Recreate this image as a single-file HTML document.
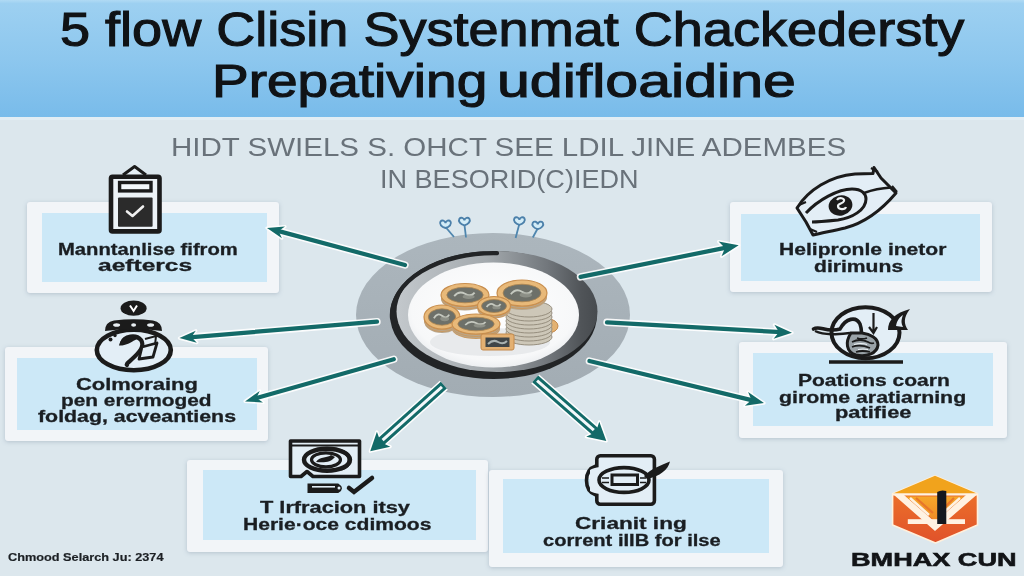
<!DOCTYPE html>
<html><head><meta charset="utf-8">
<style>
*{margin:0;padding:0;box-sizing:border-box}
html,body{width:1024px;height:576px;overflow:hidden}
body{position:relative;background:#dce7ed;font-family:"Liberation Sans",sans-serif;color:#15181c}
.a{position:absolute;white-space:nowrap;line-height:1;transform-origin:0 0}
#hdr{position:absolute;left:0;top:0;width:1024px;height:118px;background:linear-gradient(#b0daf4,#9dd0f1 3%,#8dc7ee 50%,#78bbea)}
#sep{position:absolute;left:0;top:117px;width:1024px;height:3px;background:#e2edf4}
.box{position:absolute;background:#f2f5f8;border-radius:3px;box-shadow:0 1px 4px rgba(110,130,150,.35)}
.inr{position:absolute;background:#cce8f7}
</style></head><body>
<div id="hdr"></div>
<div id="sep"></div>

<!-- boxes -->
<div class="box" style="left:27px;top:202px;width:252px;height:91px"><div class="inr" style="left:15px;top:11px;width:225px;height:69px"></div></div>
<div class="box" style="left:5px;top:347px;width:263px;height:94px"><div class="inr" style="left:12px;top:11px;width:240px;height:72px"></div></div>
<div class="box" style="left:187px;top:460px;width:301px;height:92px"><div class="inr" style="left:16px;top:10px;width:273px;height:70px"></div></div>
<div class="box" style="left:489px;top:470px;width:294px;height:97px"><div class="inr" style="left:14px;top:9px;width:266px;height:74px"></div></div>
<div class="box" style="left:730px;top:202px;width:262px;height:90px"><div class="inr" style="left:11px;top:12px;width:239px;height:67px"></div></div>
<div class="box" style="left:739px;top:342px;width:268px;height:96px"><div class="inr" style="left:14px;top:11px;width:240px;height:73px"></div></div>

<!--SVG-->
<svg style="position:absolute;left:0;top:0" width="1024" height="576" viewBox="0 0 1024 576">
<defs><linearGradient id="gOuter" x1="0" y1="0" x2="0" y2="1"><stop offset="0" stop-color="#acb6bd"/><stop offset="1" stop-color="#a2acb3"/></linearGradient><linearGradient id="gDark" x1="0" y1="0.5" x2="1" y2="0.5"><stop offset="0" stop-color="#c3c8cc"/><stop offset=".45" stop-color="#a3a9ad"/><stop offset=".75" stop-color="#72777c"/><stop offset=".92" stop-color="#505458"/><stop offset="1" stop-color="#474b4f"/></linearGradient><linearGradient id="gArc" gradientUnits="userSpaceOnUse" x1="520" y1="0" x2="597" y2="0"><stop offset="0" stop-color="#232527"/><stop offset="1" stop-color="#4a4e52"/></linearGradient><filter id="blur1" x="-10%" y="-10%" width="120%" height="120%"><feGaussianBlur stdDeviation="0.75"/></filter><linearGradient id="gInner" x1="0" y1="0" x2="1" y2="1"><stop offset="0" stop-color="#c9ced2"/><stop offset="1" stop-color="#8d9398"/></linearGradient><radialGradient id="gPlate" cx=".5" cy=".45" r=".6"><stop offset="0" stop-color="#ffffff"/><stop offset=".8" stop-color="#f7f8f9"/><stop offset="1" stop-color="#e6e9ec"/></radialGradient><linearGradient id="gLogoB" x1="0" y1="0" x2="0" y2="1"><stop offset="0" stop-color="#f07a2a"/><stop offset="1" stop-color="#e0522a"/></linearGradient></defs>
<ellipse cx="493" cy="315" rx="137" ry="82" fill="url(#gOuter)"/>
<ellipse cx="493.5" cy="315" rx="103.5" ry="64" fill="#222426"/>
<ellipse cx="497" cy="311.5" rx="100.5" ry="60.5" fill="url(#gDark)"/>
<path d="M497,253.2 A101.5,62 0 0 0 392,318" fill="none" stroke="#222426" stroke-width="4.2" stroke-linecap="round"/>
<ellipse cx="493.5" cy="315" rx="85.5" ry="52.5" fill="url(#gPlate)"/>
<ellipse cx="490" cy="342" rx="60" ry="14" fill="#e3e6e9" opacity=".8"/>
<g filter="url(#blur1)">
<ellipse cx="548" cy="326" rx="10" ry="7" fill="#e3b272" stroke="#c48a4c" stroke-width="1"/>
<ellipse cx="529" cy="337" rx="23" ry="8" fill="#cdc7b8" stroke="#968e7e" stroke-width="1"/>
<ellipse cx="529" cy="333" rx="23" ry="8" fill="#cdc7b8" stroke="#968e7e" stroke-width="1"/>
<ellipse cx="529" cy="329" rx="23" ry="8" fill="#cdc7b8" stroke="#968e7e" stroke-width="1"/>
<ellipse cx="529" cy="325" rx="23" ry="8" fill="#cdc7b8" stroke="#968e7e" stroke-width="1"/>
<ellipse cx="529" cy="321" rx="23" ry="8" fill="#cdc7b8" stroke="#968e7e" stroke-width="1"/>
<ellipse cx="529" cy="317" rx="23" ry="8" fill="#cdc7b8" stroke="#968e7e" stroke-width="1"/>
<ellipse cx="529" cy="313" rx="23" ry="8" fill="#cdc7b8" stroke="#968e7e" stroke-width="1"/>
<ellipse cx="529" cy="309" rx="23" ry="8" fill="#cdc7b8" stroke="#968e7e" stroke-width="1"/>
<ellipse cx="522" cy="297" rx="25" ry="13" fill="#b8a68c"/>
<ellipse cx="522" cy="296" rx="25" ry="13" fill="#c99a62"/>
<ellipse cx="522" cy="295" rx="25" ry="13" fill="#b8a68c"/>
<ellipse cx="522" cy="294" rx="25" ry="13" fill="#c99a62"/>
<ellipse cx="522" cy="293" rx="25" ry="13" fill="#e8b979" stroke="#c98f4f" stroke-width="1.2"/>
<ellipse cx="522" cy="293" rx="19.0" ry="8.8" fill="#6d7069" stroke="#a9834f" stroke-width=".8"/>
<path d="M510.8,294.3 q5.0,-6.5 11.2,-2.6 t10.0,-1.3" fill="none" stroke="#d6d9d0" stroke-width="1.8" opacity=".85"/>
<ellipse cx="525.8" cy="294.9" rx="6.2" ry="2.6" fill="#9a9d93" opacity=".7"/>
<ellipse cx="465" cy="299" rx="24" ry="11.5" fill="#b8a68c"/>
<ellipse cx="465" cy="298" rx="24" ry="11.5" fill="#c99a62"/>
<ellipse cx="465" cy="297" rx="24" ry="11.5" fill="#b8a68c"/>
<ellipse cx="465" cy="296" rx="24" ry="11.5" fill="#c99a62"/>
<ellipse cx="465" cy="295" rx="24" ry="11.5" fill="#e8b979" stroke="#c98f4f" stroke-width="1.2"/>
<ellipse cx="465" cy="295" rx="18.2" ry="7.8" fill="#6d7069" stroke="#a9834f" stroke-width=".8"/>
<path d="M454.2,296.1 q4.8,-5.8 10.8,-2.3 t9.6,-1.2" fill="none" stroke="#d6d9d0" stroke-width="1.8" opacity=".85"/>
<ellipse cx="468.6" cy="296.7" rx="6.0" ry="2.3" fill="#9a9d93" opacity=".7"/>
<ellipse cx="442" cy="321" rx="18" ry="12" fill="#b8a68c"/>
<ellipse cx="442" cy="320" rx="18" ry="12" fill="#c99a62"/>
<ellipse cx="442" cy="319" rx="18" ry="12" fill="#b8a68c"/>
<ellipse cx="442" cy="318" rx="18" ry="12" fill="#c99a62"/>
<ellipse cx="442" cy="317" rx="18" ry="12" fill="#e8b979" stroke="#c98f4f" stroke-width="1.2"/>
<ellipse cx="442" cy="317" rx="13.7" ry="8.2" fill="#6d7069" stroke="#a9834f" stroke-width=".8"/>
<path d="M433.9,318.2 q3.6,-6.0 8.1,-2.4 t7.2,-1.2" fill="none" stroke="#d6d9d0" stroke-width="1.8" opacity=".85"/>
<ellipse cx="444.7" cy="318.8" rx="4.5" ry="2.4" fill="#9a9d93" opacity=".7"/>
<ellipse cx="494" cy="309" rx="16.5" ry="9.5" fill="#c99a62"/>
<ellipse cx="494" cy="308" rx="16.5" ry="9.5" fill="#b8a68c"/>
<ellipse cx="494" cy="307" rx="16.5" ry="9.5" fill="#c99a62"/>
<ellipse cx="494" cy="306" rx="16.5" ry="9.5" fill="#e8b979" stroke="#c98f4f" stroke-width="1.2"/>
<ellipse cx="494" cy="306" rx="12.5" ry="6.5" fill="#6d7069" stroke="#a9834f" stroke-width=".8"/>
<path d="M486.6,306.9 q3.3,-4.8 7.4,-1.9 t6.6,-1.0" fill="none" stroke="#d6d9d0" stroke-width="1.8" opacity=".85"/>
<ellipse cx="496.5" cy="307.4" rx="4.1" ry="1.9" fill="#9a9d93" opacity=".7"/>
<ellipse cx="476" cy="329" rx="24" ry="10" fill="#c99a62"/>
<ellipse cx="476" cy="328" rx="24" ry="10" fill="#b8a68c"/>
<ellipse cx="476" cy="327" rx="24" ry="10" fill="#c99a62"/>
<ellipse cx="476" cy="326" rx="24" ry="10" fill="#b8a68c"/>
<ellipse cx="476" cy="325" rx="24" ry="10" fill="#c99a62"/>
<ellipse cx="476" cy="324" rx="24" ry="10" fill="#e8b979" stroke="#c98f4f" stroke-width="1.2"/>
<ellipse cx="476" cy="324" rx="18.2" ry="6.8" fill="#6d7069" stroke="#a9834f" stroke-width=".8"/>
<path d="M465.2,325.0 q4.8,-5.0 10.8,-2.0 t9.6,-1.0" fill="none" stroke="#d6d9d0" stroke-width="1.8" opacity=".85"/>
<ellipse cx="479.6" cy="325.5" rx="6.0" ry="2.0" fill="#9a9d93" opacity=".7"/>
<rect x="481" y="334" width="33" height="16" rx="2" fill="#e3b072" stroke="#c48a4c" stroke-width="1"/>
<rect x="485.5" y="337.5" width="24" height="9.5" fill="#3f4546"/>
<path d="M488,344 q5,-5 10,-2 t9,-1" fill="none" stroke="#a9b1b0" stroke-width="2"/>
</g>
<line x1="405" y1="265" x2="276.9" y2="230.6" stroke="#fff" stroke-width="7.4" stroke-linecap="round" opacity=".9"/>
<path d="M267.0,228.0 L285.0,226.6 L278.6,231.1 L281.9,238.2Z" fill="#fff" stroke="#fff" stroke-width="3.2" stroke-linejoin="round" opacity=".9"/>
<line x1="405" y1="265" x2="276.9" y2="230.6" stroke="#136a68" stroke-width="4.2" stroke-linecap="round"/>
<path d="M267.0,228.0 L285.0,226.6 L278.6,231.1 L281.9,238.2Z" fill="#136a68"/>
<line x1="377" y1="321.7" x2="189.6" y2="337.3" stroke="#fff" stroke-width="7.4" stroke-linecap="round" opacity=".9"/>
<path d="M179.4,338.1 L195.8,330.7 L191.4,337.1 L196.8,342.7Z" fill="#fff" stroke="#fff" stroke-width="3.2" stroke-linejoin="round" opacity=".9"/>
<line x1="377" y1="321.7" x2="189.6" y2="337.3" stroke="#136a68" stroke-width="4.2" stroke-linecap="round"/>
<path d="M179.4,338.1 L195.8,330.7 L191.4,337.1 L196.8,342.7Z" fill="#136a68"/>
<line x1="393.8" y1="359.2" x2="254.8" y2="398.6" stroke="#fff" stroke-width="7.4" stroke-linecap="round" opacity=".9"/>
<path d="M245.0,401.4 L259.7,391.0 L256.5,398.1 L263.0,402.5Z" fill="#fff" stroke="#fff" stroke-width="3.2" stroke-linejoin="round" opacity=".9"/>
<line x1="393.8" y1="359.2" x2="254.8" y2="398.6" stroke="#136a68" stroke-width="4.2" stroke-linecap="round"/>
<path d="M245.0,401.4 L259.7,391.0 L256.5,398.1 L263.0,402.5Z" fill="#136a68"/>
<line x1="443.8" y1="385.2" x2="379.6" y2="442.9" stroke="#fff" stroke-width="12.0" stroke-linecap="butt"/>
<path d="M370.2,451.3 L376.9,431.8 L380.6,441.9 L390.3,446.7Z" fill="#fff" stroke="#fff" stroke-width="3.0" stroke-linejoin="round"/>
<line x1="443.8" y1="385.2" x2="379.6" y2="442.9" stroke="#136a68" stroke-width="9" stroke-linecap="butt"/>
<line x1="441.9400064204169" y1="386.8704561903593" x2="382.6" y2="440.2" stroke="#f4f8fa" stroke-width="3" stroke-linecap="butt"/>
<path d="M370.2,451.3 L376.9,431.8 L380.6,441.9 L390.3,446.7Z" fill="#136a68"/>
<line x1="535.2" y1="378.9" x2="596.8" y2="432.8" stroke="#fff" stroke-width="12.0" stroke-linecap="butt"/>
<path d="M606.3,441.1 L586.2,436.8 L595.8,431.9 L599.3,421.7Z" fill="#fff" stroke="#fff" stroke-width="3.0" stroke-linejoin="round"/>
<line x1="535.2" y1="378.9" x2="596.8" y2="432.8" stroke="#136a68" stroke-width="9" stroke-linecap="butt"/>
<line x1="537.0816056650517" y1="380.54607415423646" x2="593.8" y2="430.2" stroke="#f4f8fa" stroke-width="3" stroke-linecap="butt"/>
<path d="M606.3,441.1 L586.2,436.8 L595.8,431.9 L599.3,421.7Z" fill="#136a68"/>
<line x1="589.4" y1="361" x2="753.5" y2="400.6" stroke="#fff" stroke-width="7.4" stroke-linecap="round" opacity=".9"/>
<path d="M764.0,403.1 L744.9,405.7 L751.4,400.1 L748.1,392.1Z" fill="#fff" stroke="#fff" stroke-width="3.2" stroke-linejoin="round" opacity=".9"/>
<line x1="589.4" y1="361" x2="753.5" y2="400.6" stroke="#136a68" stroke-width="4.2" stroke-linecap="round"/>
<path d="M764.0,403.1 L744.9,405.7 L751.4,400.1 L748.1,392.1Z" fill="#136a68"/>
<line x1="607" y1="322.3" x2="781.2" y2="332.2" stroke="#fff" stroke-width="7.4" stroke-linecap="round" opacity=".9"/>
<path d="M792.0,332.8 L773.6,338.8 L779.0,332.1 L774.4,324.8Z" fill="#fff" stroke="#fff" stroke-width="3.2" stroke-linejoin="round" opacity=".9"/>
<line x1="607" y1="322.3" x2="781.2" y2="332.2" stroke="#136a68" stroke-width="4.2" stroke-linecap="round"/>
<path d="M792.0,332.8 L773.6,338.8 L779.0,332.1 L774.4,324.8Z" fill="#136a68"/>
<line x1="580.5" y1="276.9" x2="727.5" y2="247.4" stroke="#fff" stroke-width="7.4" stroke-linecap="round" opacity=".9"/>
<path d="M738.7,245.2 L721.5,256.3 L725.0,248.0 L718.6,241.6Z" fill="#fff" stroke="#fff" stroke-width="3.2" stroke-linejoin="round" opacity=".9"/>
<line x1="580.5" y1="276.9" x2="727.5" y2="247.4" stroke="#136a68" stroke-width="4.2" stroke-linecap="round"/>
<path d="M738.7,245.2 L721.5,256.3 L725.0,248.0 L718.6,241.6Z" fill="#136a68"/>
<line x1="445.5" y1="227" x2="454" y2="237" stroke="#4f86ae" stroke-width="1.8"/>
<path d="M445.5,228 C441.5,227 439.0,224 440.5,221.5 C442.0,219.5 445.0,220.5 445.5,223 C446.0,220.5 449.0,219.5 450.5,221.5 C452.0,224 449.5,227 445.5,228Z" fill="#d3ecf7" stroke="#4c80aa" stroke-width="1.9"/>
<line x1="464.4" y1="224.3" x2="466" y2="237.5" stroke="#4f86ae" stroke-width="1.8"/>
<path d="M464.4,225.3 C460.4,224.3 457.9,221.3 459.4,218.8 C460.9,216.8 463.9,217.8 464.4,220.3 C464.9,217.8 467.9,216.8 469.4,218.8 C470.9,221.3 468.4,224.3 464.4,225.3Z" fill="#d3ecf7" stroke="#4c80aa" stroke-width="1.9"/>
<line x1="519.4" y1="223.8" x2="515.6" y2="238" stroke="#4f86ae" stroke-width="1.8"/>
<path d="M519.4,224.8 C515.4,223.8 512.9,220.8 514.4,218.3 C515.9,216.3 518.9,217.3 519.4,219.8 C519.9,217.3 522.9,216.3 524.4,218.3 C525.9,220.8 523.4,223.8 519.4,224.8Z" fill="#d3ecf7" stroke="#4c80aa" stroke-width="1.9"/>
<line x1="537.8" y1="228.2" x2="532.8" y2="237.5" stroke="#4f86ae" stroke-width="1.8"/>
<path d="M537.8,229.2 C533.8,228.2 531.3,225.2 532.8,222.7 C534.3,220.7 537.3,221.7 537.8,224.2 C538.3,221.7 541.3,220.7 542.8,222.7 C544.3,225.2 541.8,228.2 537.8,229.2Z" fill="#d3ecf7" stroke="#4c80aa" stroke-width="1.9"/>
<path d="M123,175 L134.6,166.5 L146,175" fill="#e6f0f6" stroke="#1b1b1b" stroke-width="3" stroke-linejoin="round"/>
<rect x="111" y="176.7" width="48.5" height="54.7" rx="1.5" fill="#edf3f7" stroke="#1b1b1b" stroke-width="4.6"/>
<rect x="119.6" y="182.5" width="31.4" height="8.4" fill="#f4f8fb" stroke="#1b1b1b" stroke-width="3.4"/>
<rect x="118" y="197.5" width="34.6" height="29.2" rx="1" fill="#2b2b2b"/>
<path d="M127,211.5 L132.5,216 L143,206.5" fill="none" stroke="#f0f0f0" stroke-width="2.6" stroke-linecap="round" stroke-linejoin="round"/>
<ellipse cx="133.8" cy="350" rx="37" ry="20.3" fill="#e3eef6" stroke="#1b1b1b" stroke-width="4.6"/>
<path d="M105,331 Q105,322 114,320.5 Q134,318 153,320.5 Q162,322 162,331 Q134,327 105,331 Z" fill="#1b1b1b"/>
<ellipse cx="116.6" cy="325" rx="3.5" ry="1.8" fill="#e8eef2"/>
<ellipse cx="133.6" cy="325" rx="2.5" ry="1.8" fill="#e8eef2"/>
<ellipse cx="150.6" cy="325" rx="3.5" ry="1.8" fill="#e8eef2"/>
<ellipse cx="133.6" cy="308.2" rx="13" ry="7.6" fill="#1b1b1b"/>
<path d="M130,305.5 L133.6,311 L137,305.5" fill="none" stroke="#fff" stroke-width="2"/>
<path d="M122,343 C124,336 136,334 141,340 C145,346 140,352 131,360 C128,363 126,364 127,365" fill="none" stroke="#1b1b1b" stroke-width="4.2" stroke-linecap="round"/>
<path d="M121,344 C123,338 130,337 134,339 C130,341 126,344 121,344Z" fill="#1b1b1b" stroke="#1b1b1b" stroke-width="3"/>
<path d="M142,347 L157,343 L153,357 L139,359 Z" fill="#e3eef6" stroke="#1b1b1b" stroke-width="2.8" stroke-linejoin="round"/>
<path d="M145,339 L156,336 L155,345" fill="none" stroke="#1b1b1b" stroke-width="2"/>
<circle cx="110.5" cy="339.5" r="2" fill="#1b1b1b"/><circle cx="115" cy="335.5" r="1.7" fill="#1b1b1b"/>
<path d="M290.5,441 L359.5,441 L359.5,476.5 L313,476.5 L307,471.5 L301,476.5 L290.5,476.5 Z" fill="#e3eef6" stroke="#1b1b1b" stroke-width="3.6" stroke-linejoin="round"/>
<line x1="291" y1="445.5" x2="359" y2="445.5" stroke="#1b1b1b" stroke-width="2"/>
<ellipse cx="327" cy="459.8" rx="23" ry="11" fill="#e3eef6" stroke="#1b1b1b" stroke-width="4.4"/>
<path d="M341,451 C352,454 352,466 341,469" fill="none" stroke="#1b1b1b" stroke-width="3.5"/>
<ellipse cx="326" cy="459.8" rx="14.5" ry="7" fill="none" stroke="#1b1b1b" stroke-width="3.2"/>
<path d="M316,462 C320,456 328,458 331,455 L335,457 C331,462 325,463 316,462Z" fill="#1b1b1b"/>
<path d="M308.5,484.5 L338,484.5 Q344,488 338,492 L308.5,492 Z" fill="#1b1b1b" stroke="#1b1b1b" stroke-width="2"/>
<path d="M312,486.8 L335,486.8" stroke="#e3eef6" stroke-width="1.6"/><circle cx="339" cy="488" r="1.5" fill="#e3eef6"/>
<path d="M349,488 L354,492 L372,478" fill="none" stroke="#1b1b1b" stroke-width="4.5" stroke-linecap="round"/>
<rect x="596.8" y="455.8" width="57.6" height="48.4" rx="3.5" fill="#e3eef6" stroke="#1b1b1b" stroke-width="3.6"/>
<path d="M596,466 Q586.5,469 586.5,480.5 Q586.5,492 596,495" fill="none" stroke="#1b1b1b" stroke-width="3.6"/>
<path d="M590,470 Q593,468 600,467 L600,494 Q593,493 590,491 Z" fill="#e3eef6"/>
<ellipse cx="624" cy="480" rx="25" ry="12.4" fill="#e3eef6" stroke="#1b1b1b" stroke-width="3.6"/>
<rect x="612" y="475" width="25.5" height="9.5" fill="#e3eef6" stroke="#1b1b1b" stroke-width="3"/>
<path d="M602,478 L609,478 M602,482.5 L609,482.5 M640,478 L646,478 M640,482.5 L646,482.5" stroke="#1b1b1b" stroke-width="1.6"/>
<path d="M644,476 C652,468 660,466 670,461.5 C668,470 660,476 647,479 Z" fill="#1b1b1b"/>
<path d="M797,208 C808,190 830,176 855,174 L873,173.5 L874,167.5 L881,178 L896,193 C885,206 868,222 845,228 C832,231 821,233 813,235 L806,222 Z" fill="#e3eef6" stroke="#1b1b1b" stroke-width="3" stroke-linejoin="round"/>
<path d="M806,213 C818,200 838,189 852,189 C862,189 866,194 866,199 C866,210 852,218 838,220 C828,221 818,222 812,222" fill="#e3eef6" stroke="#1b1b1b" stroke-width="3"/>
<path d="M864,193 C872,190 882,188 891,187.5" fill="none" stroke="#1b1b1b" stroke-width="2.6"/>
<ellipse cx="840.5" cy="205.5" rx="12" ry="10" fill="#1b1b1b" transform="rotate(-15 840.5 205.5)"/>
<path d="M837,200 C839,197 845,198 844,201 C843,204 838,203 838,206 C838,210 845,210 846,207" fill="none" stroke="#eef2f4" stroke-width="2.2"/>
<path d="M799,205 L806,202 M810,229 L817,232 M871,168 L878,172 M892,186 L897,192" stroke="#1b1b1b" stroke-width="2.2"/>
<ellipse cx="865.5" cy="332.7" rx="34" ry="25.5" fill="#e3eef6" stroke="#1b1b1b" stroke-width="4"/>
<line x1="829" y1="362" x2="903" y2="362" stroke="#1b1b1b" stroke-width="3.5"/>
<path d="M813.5,329 C820,325 826,333 840,329 C846,318 856,316 860,324 C862,330 862,334 860,338" fill="none" stroke="#1b1b1b" stroke-width="3.6" stroke-linecap="round"/>
<path d="M815,331 C826,336 840,334 850,333" fill="none" stroke="#1b1b1b" stroke-width="2.4"/>
<path d="M851,333 C845,342 846,352 856,355 C866,357 877,354 878,345 C878,338 870,334 862,333 Z" fill="#9aa3a8" stroke="#1b1b1b" stroke-width="3"/>
<path d="M852,342 q8,-4 16,0 q3,2 6,1 M852,347 q8,-3 18,1 M857,338 q5,2 10,0 M856,352 q6,-2 14,0" fill="none" stroke="#1b1b1b" stroke-width="1.8"/>
<path d="M854,344.5 q7,-2 13,0 M858,349.5 q5,-1 10,0" fill="none" stroke="#eef3f6" stroke-width="1.2"/>
<path d="M873.5,313 L873.5,332 M869,327 L873.5,333 L877,327" fill="none" stroke="#1b1b1b" stroke-width="2.2"/>
<path d="M888,330 C888,320 895,313 910,309 C903,318 904,324 908,330 Z" fill="#1b1b1b"/>
<path d="M896,326 C897,320 900,317 903,315 C901,320 901,323 903,327 Z" fill="#e3eef6"/>
<linearGradient id="gTri" x1="0" y1="0" x2="0" y2="1"><stop offset="0" stop-color="#f6a72a"/><stop offset="1" stop-color="#ee8a26"/></linearGradient>
<path d="M935,475.8 L977.5,493.8 L977.5,525 L935.5,543 L892.6,525 L892.6,493.8 Z" fill="url(#gLogoB)" stroke="#fff0dc" stroke-width="1.6" stroke-linejoin="round"/>
<path d="M935,475.8 L977.5,493.8 L892.6,493.8 Z" fill="#f1a31c"/>
<path d="M893,494.4 L977,494.4" stroke="#fff2e2" stroke-width="2.2"/>
<path d="M894,495 L935,531 L976.5,495 L966,495 L935,522 L904,495 Z" fill="#fff2e2"/>
<path d="M906,496.5 L935,521 L964,496.5 Z" fill="url(#gTri)"/>
<path d="M910,498 L929,515 M960,498 L941,515" stroke="#fff2e2" stroke-width="2.6"/>
<path d="M916,498 L933,513 M954,498 L939,513" stroke="#e8762a" stroke-width="2.2"/>
<rect x="907.8" y="519.2" width="57.2" height="4.8" fill="#fff2e2"/>
<path d="M937.2,492 Q941,489.5 946.3,491 L946.3,524 L937.2,524 Z" fill="#14181e"/>
</svg>
<!--/SVG-->
<!--TEXTS-->
<div class="a" id="t1a" style="left:60.2px;top:6.0px;font-size:47.5px;font-weight:400;-webkit-text-stroke:1.1px;color:#101316;transform:scaleX(1.138)">5 flow Clisin Systenmat Chackedersty</div>
<div class="a" id="t1b" style="left:212.4px;top:57.7px;font-size:46px;font-weight:400;-webkit-text-stroke:1.1px;color:#101316;transform:scaleX(1.196)">Prepativing</div>
<div class="a" id="t1c" style="left:497.4px;top:57.7px;font-size:46px;font-weight:400;-webkit-text-stroke:1.1px;color:#101316;transform:scaleX(1.284)">udifloaidine</div>
<div class="a" id="s1" style="left:171.4px;top:133.7px;font-size:26px;font-weight:400;color:#69727a;transform:scaleX(1.135)">HIDT SWIELS S. OHCT SEE LDIL JINE ADEMBES</div>
<div class="a" id="s2" style="left:380.3px;top:165.8px;font-size:26.5px;font-weight:400;color:#69727a;transform:scaleX(1.021)">IN BESORID(C)IEDN</div>
<div class="a" id="b1a" style="left:57.6px;top:240.6px;font-size:16.5px;font-weight:700;-webkit-text-stroke:0.3px;color:#1a1e22;transform:scaleX(1.226)">Manntanlise fifrom</div>
<div class="a" id="b1b" style="left:97.9px;top:257.0px;font-size:16.5px;font-weight:700;-webkit-text-stroke:0.3px;color:#1a1e22;transform:scaleX(1.487)">aeftercs</div>
<div class="a" id="b2a" style="left:75.5px;top:375.5px;font-size:16.5px;font-weight:700;-webkit-text-stroke:0.3px;color:#1a1e22;transform:scaleX(1.330)">Colmoraing</div>
<div class="a" id="b2b" style="left:60.9px;top:391.5px;font-size:16.5px;font-weight:700;-webkit-text-stroke:0.3px;color:#1a1e22;transform:scaleX(1.263)">pen erermoged</div>
<div class="a" id="b2c" style="left:37.5px;top:407.6px;font-size:16.5px;font-weight:700;-webkit-text-stroke:0.3px;color:#1a1e22;transform:scaleX(1.293)">foldag, acveantiens</div>
<div class="a" id="b3a" style="left:260.1px;top:499.2px;font-size:16.5px;font-weight:700;-webkit-text-stroke:0.3px;color:#1a1e22;transform:scaleX(1.319)">T lrfracion itsy</div>
<div class="a" id="b3b" style="left:243.3px;top:515.7px;font-size:16.5px;font-weight:700;-webkit-text-stroke:0.3px;color:#1a1e22;transform:scaleX(1.276)">Herie·oce cdimoos</div>
<div class="a" id="b4a" style="left:574.8px;top:515.1px;font-size:16.5px;font-weight:700;-webkit-text-stroke:0.3px;color:#1a1e22;transform:scaleX(1.370)">Crianit ing</div>
<div class="a" id="b4b" style="left:543.3px;top:531.8px;font-size:16.5px;font-weight:700;-webkit-text-stroke:0.3px;color:#1a1e22;transform:scaleX(1.219)">corrent iIIB for ilse</div>
<div class="a" id="b5a" style="left:778.5px;top:241.4px;font-size:16.5px;font-weight:700;-webkit-text-stroke:0.3px;color:#1a1e22;transform:scaleX(1.277)">Helipronle inetor</div>
<div class="a" id="b5b" style="left:813.5px;top:258.0px;font-size:16.5px;font-weight:700;-webkit-text-stroke:0.3px;color:#1a1e22;transform:scaleX(1.279)">dirimuns</div>
<div class="a" id="b6a" style="left:797.7px;top:371.8px;font-size:16.5px;font-weight:700;-webkit-text-stroke:0.3px;color:#1a1e22;transform:scaleX(1.273)">Poations coarn</div>
<div class="a" id="b6b" style="left:779.4px;top:388.6px;font-size:16.5px;font-weight:700;-webkit-text-stroke:0.3px;color:#1a1e22;transform:scaleX(1.292)">girome aratiarning</div>
<div class="a" id="b6c" style="left:835.3px;top:404.3px;font-size:16.5px;font-weight:700;-webkit-text-stroke:0.3px;color:#1a1e22;transform:scaleX(1.323)">patifiee</div>
<div class="a" id="ft" style="left:7.9px;top:550.7px;font-size:11.7px;font-weight:700;-webkit-text-stroke:0.2px;color:#1c2024;transform:scaleX(1.088)">Chmood Selarch Ju: 2374</div>
<div class="a" id="lg" style="left:851.4px;top:549.5px;font-size:19px;font-weight:700;-webkit-text-stroke:0.6px;color:#121417;transform:scaleX(1.426)">BMHAX CUN</div>
<!--/TEXTS-->
</body></html>
